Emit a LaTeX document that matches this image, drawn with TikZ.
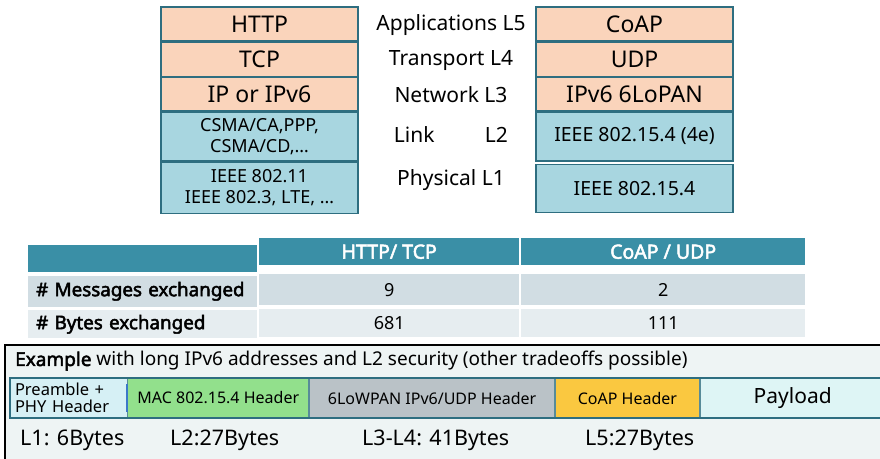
\documentclass[tikz,border=0pt]{standalone}
\usepackage{fontspec}
\setmainfont{Noto Sans}[AutoFakeBold=2.5]
\usetikzlibrary{positioning,chains,matrix}
\definecolor{peach}{RGB}{250,212,187}
\definecolor{lblue}{RGB}{168,214,224}
\definecolor{edge}{RGB}{46,110,128}
\definecolor{thead}{RGB}{58,143,166}
\definecolor{trowa}{RGB}{209,221,227}
\definecolor{trowb}{RGB}{230,237,240}
\definecolor{paper}{RGB}{238,244,244}
\definecolor{preblue}{RGB}{214,240,245}
\definecolor{macgreen}{RGB}{146,224,140}
\definecolor{lowgray}{RGB}{186,194,199}
\definecolor{coapyel}{RGB}{250,200,64}
\definecolor{payblue}{RGB}{222,245,245}
\definecolor{divblue}{RGB}{60,120,200}

\begin{document}
\begin{tikzpicture}[x=1pt,y=-1pt,
    layer/.style={draw=edge, line width=1.3pt, minimum width=197pt, inner sep=0pt, align=center, font=\fontsize{23}{25}\selectfont},
    smalllayer/.style={layer, font=\fontsize{18}{21}\selectfont},
    osi/.style={inner sep=0pt, font=\fontsize{21}{23}\selectfont},
    seg/.style={draw=edge!80, line width=0.8pt, minimum height=39pt, inner sep=0pt, font=\fontsize{16}{18}\selectfont},
    bytes/.style={anchor=west, inner sep=0pt, font=\fontsize{21.5}{23}\selectfont}]

    \useasboundingbox (0,0) rectangle (880,458);

    % left stack
    \node[layer, fill=peach, minimum height=34pt] (lhttp) at (259.5,24) {HTTP};
    \node[layer, fill=peach, minimum height=34pt, below=0pt of lhttp] (ltcp) {TCP};
    \node[layer, fill=peach, minimum height=33pt, below=0pt of ltcp] (lip) {IP or IPv6};
    \node[smalllayer, fill=lblue, minimum height=49pt, below=0pt of lip] (llink) {CSMA/CA,PPP,\\CSMA/CD,\ldots};
    \node[smalllayer, fill=lblue, minimum height=51pt, below=0pt of llink] (lphy) {IEEE 802.11\\IEEE 802.3, LTE, \ldots};

    % right stack
    \node[layer, fill=peach, minimum height=34pt] (rcoap) at (634.5,24) {CoAP};
    \node[layer, fill=peach, minimum height=34pt, below=0pt of rcoap] (rudp) {UDP};
    \node[layer, fill=peach, minimum height=33pt, below=0pt of rudp] (rip) {IPv6 6LoPAN};
    \node[smalllayer, fill=lblue, minimum height=49pt, below=0pt of rip, font=\fontsize{19.5}{21}\selectfont] (rlink) {IEEE 802.15.4 (4e)};
    \node[smalllayer, fill=lblue, minimum height=48pt, below=2pt of rlink, font=\fontsize{19.5}{21}\selectfont] (rphy) {IEEE 802.15.4};

    % layer names
    \node[osi] (app) at (451,25) {Applications L5};
    \node[osi] (trn) at (451,60) {Transport L4};
    \node[osi] (net) at (451,95) {Network L3};
    \node[osi] (lnk) at (451,135) {Link\hspace{2.4em}L2};
    \node[osi] (phy) at (451,180) {Physical L1};

    % comparison table
    \matrix[matrix of nodes, nodes in empty cells, anchor=north west, column sep=2pt, row sep=2pt, inner sep=0pt,
        nodes={inner sep=0pt, font=\fontsize{18}{20}\selectfont},
        column 1/.style={nodes={text width=213pt, inner xsep=8pt, align=left, font=\fontsize{18.8}{20}\selectfont\bfseries}},
        column 2/.style={nodes={minimum width=260pt}},
        column 3/.style={nodes={minimum width=284pt}},
        row 1/.style={nodes={fill=thead, text=white, minimum height=27pt, font=\fontsize{19.5}{21}\selectfont\bfseries}},
        row 2/.style={nodes={fill=trowa, minimum height=31pt}},
        row 3/.style={nodes={fill=trowb, minimum height=28pt}}] (tab) at (28,238) {
        & HTTP/ TCP & CoAP / UDP \\
        \# Messages exchanged & 9 & 2 \\
        \# Bytes exchanged & 681 & 111 \\
    };

    % example frame
    \draw[line width=2pt, fill=paper] (5,345) rectangle (883,461);
    \node[anchor=west, inner sep=0pt, font=\fontsize{19}{21}\selectfont] (title) at (15,361)
        {\textbf{Example} with long IPv6 addresses and L2 security (other tradeoffs possible)};

    \begin{scope}[start chain=going right, node distance=0pt]
        \node[seg, on chain, fill=preblue, minimum width=117pt, text width=107pt, inner xsep=5pt, align=left,
            font=\fontsize{16.5}{17}\selectfont] (pre) at (68.5,398) {Preamble +\\PHY Header};
        \foreach \n/\w/\c/\t in {mac/181/macgreen/MAC 802.15.4 Header, low/245/lowgray/{6LoWPAN IPv6/UDP Header},
            coap/144/coapyel/CoAP Header}{
            \node[seg, on chain, fill=\c, minimum width=\w pt] (\n) {\t};
        }
        \node[seg, on chain, fill=payblue, minimum width=185pt, font=\fontsize{21}{23}\selectfont] (pay) {Payload};
    \end{scope}
    \draw[edge, line width=1.8pt] (pre.north west) rectangle (pay.south east);
    \draw[divblue, line width=2pt] ([yshift=-6pt]pre.north east) -- ([yshift=6pt]pre.south east);

    \node[bytes] (lone) at (20,440) {L1: 6Bytes};
    \node[bytes] (ltwo) at (170,440) {L2:27Bytes};
    \node[bytes] (lthree) at (362,440) {L3-L4: 41Bytes};
    \node[bytes] (lfive) at (585,440) {L5:27Bytes};
\end{tikzpicture}
\end{document}
